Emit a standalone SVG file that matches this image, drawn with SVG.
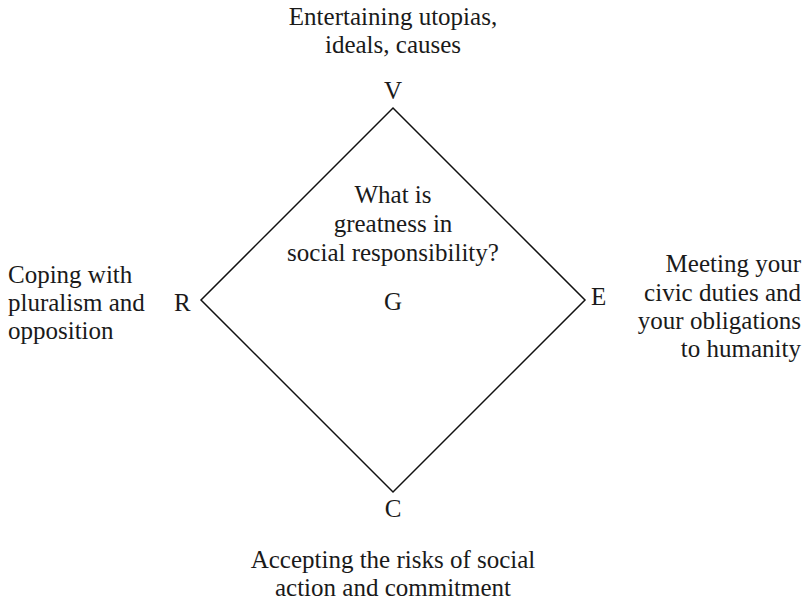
<svg xmlns="http://www.w3.org/2000/svg" width="810" height="600" viewBox="0 0 810 600">
  <style>
    text { font-family: "Liberation Serif", "DejaVu Serif", serif; font-size: 25px; fill: #1a1a1a; }
    .mid { text-anchor: middle; }
    .end { text-anchor: end; }
    .edge { fill: none; stroke: #111; stroke-width: 1.5; }
  </style>
  <rect width="810" height="600" fill="#ffffff"/>

  <!-- diamond outline connecting the four poles -->
  <g id="connectors">
    <polygon class="edge" points="393,108 585,300 393,492 201,300"/>
  </g>

  <g id="node-V">
    <text class="mid" x="393" y="25">Entertaining utopias,</text>
    <text class="mid" x="393" y="53">ideals, causes</text>
    <text class="mid" x="393" y="99">V</text>
  </g>

  <g id="node-G">
    <text class="mid" x="393" y="203">What is</text>
    <text class="mid" x="393" y="232">greatness in</text>
    <text class="mid" x="393" y="261">social responsibility?</text>
    <text class="mid" x="393" y="310">G</text>
  </g>

  <g id="node-R">
    <text x="8" y="283">Coping with</text>
    <text x="8" y="311">pluralism and</text>
    <text x="8" y="339">opposition</text>
    <text x="174" y="311">R</text>
  </g>

  <g id="node-E">
    <text x="591" y="305">E</text>
    <text class="end" x="801" y="272">Meeting your</text>
    <text class="end" x="801" y="301">civic duties and</text>
    <text class="end" x="801" y="329">your obligations</text>
    <text class="end" x="801" y="357">to humanity</text>
  </g>

  <g id="node-C">
    <text class="mid" x="393" y="517">C</text>
    <text class="mid" x="393" y="568">Accepting the risks of social</text>
    <text class="mid" x="393" y="596">action and commitment</text>
  </g>
</svg>
